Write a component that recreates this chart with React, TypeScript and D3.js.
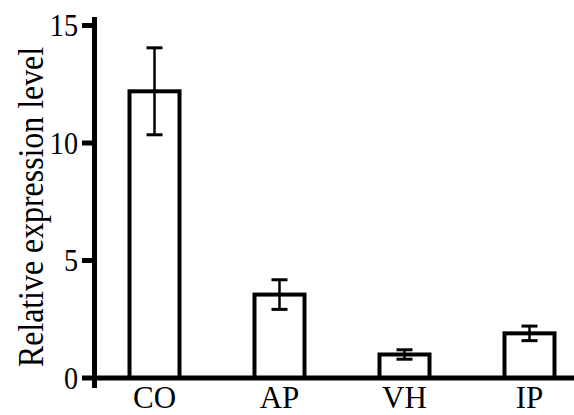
import React from "react";
import * as d3 from "d3";

const categories = ["CO", "AP", "VH", "IP"];
const means = [12.2, 3.55, 1.0, 1.9];
const errors = [1.85, 0.63, 0.2, 0.31];
const yTicks = [0, 5, 10, 15];

const W = 574;
const H = 415;
const font = '"Liberation Serif", "DejaVu Serif", serif';

export default function App() {
  const x0 = 94.5; // y axis position
  const y = d3.scaleLinear().domain([0, 15]).range([378, 25.5]);
  const x = d3.scaleBand<string>().domain(categories).range([92, 592]).paddingInner(0.6).paddingOuter(0.3);

  return (
    <svg
      width={W}
      height={H}
      style={{ position: "absolute", left: 0, top: 0, background: "#fff" }}
    >
      {/* bars */}
      {categories.map((c, i) => (
        <rect
          key={c}
          x={x(c)}
          y={y(means[i])}
          width={x.bandwidth()}
          height={y(0) - y(means[i])}
          fill="#fff"
          stroke="#000"
          strokeWidth={4}
        />
      ))}

      {/* error bars */}
      {categories.map((c, i) => {
        const cx = (x(c) as number) + x.bandwidth() / 2;
        const top = y(means[i] + errors[i]);
        const bot = y(means[i] - errors[i]);
        return (
          <g key={c} stroke="#000">
            <line x1={cx} x2={cx} y1={top} y2={bot} strokeWidth={2.5} />
            <line x1={cx - 8} x2={cx + 8} y1={top} y2={top} strokeWidth={3} />
            <line x1={cx - 8} x2={cx + 8} y1={bot} y2={bot} strokeWidth={3} />
          </g>
        );
      })}

      {/* y axis */}
      <line x1={x0} x2={x0} y1={17} y2={388} stroke="#000" strokeWidth={5} />
      {yTicks.map((t) => (
        <g key={t}>
          <line x1={82} x2={x0} y1={y(t)} y2={y(t)} stroke="#000" strokeWidth={5} />
          <text
            transform={`translate(78,${y(t)}) scale(0.88,1)`}
            dy="0.34em"
            textAnchor="end"
            style={{ fontFamily: font, fontSize: 32 }}
          >
            {t}
          </text>
        </g>
      ))}

      {/* x axis */}
      <line x1={x0} x2={W} y1={y(0)} y2={y(0)} stroke="#000" strokeWidth={5} />
      {categories.map((c) => (
        <text
          key={c}
          transform={`translate(${(x(c) as number) + x.bandwidth() / 2},408) scale(0.97,1)`}
          textAnchor="middle"
          style={{ fontFamily: font, fontSize: 32 }}
        >
          {c}
        </text>
      ))}

      <text
        transform="translate(43,207) rotate(-90) scale(0.885,1)"
        textAnchor="middle"
        style={{ fontFamily: font, fontSize: 36 }}
      >
        Relative expression level
      </text>
    </svg>
  );
}
